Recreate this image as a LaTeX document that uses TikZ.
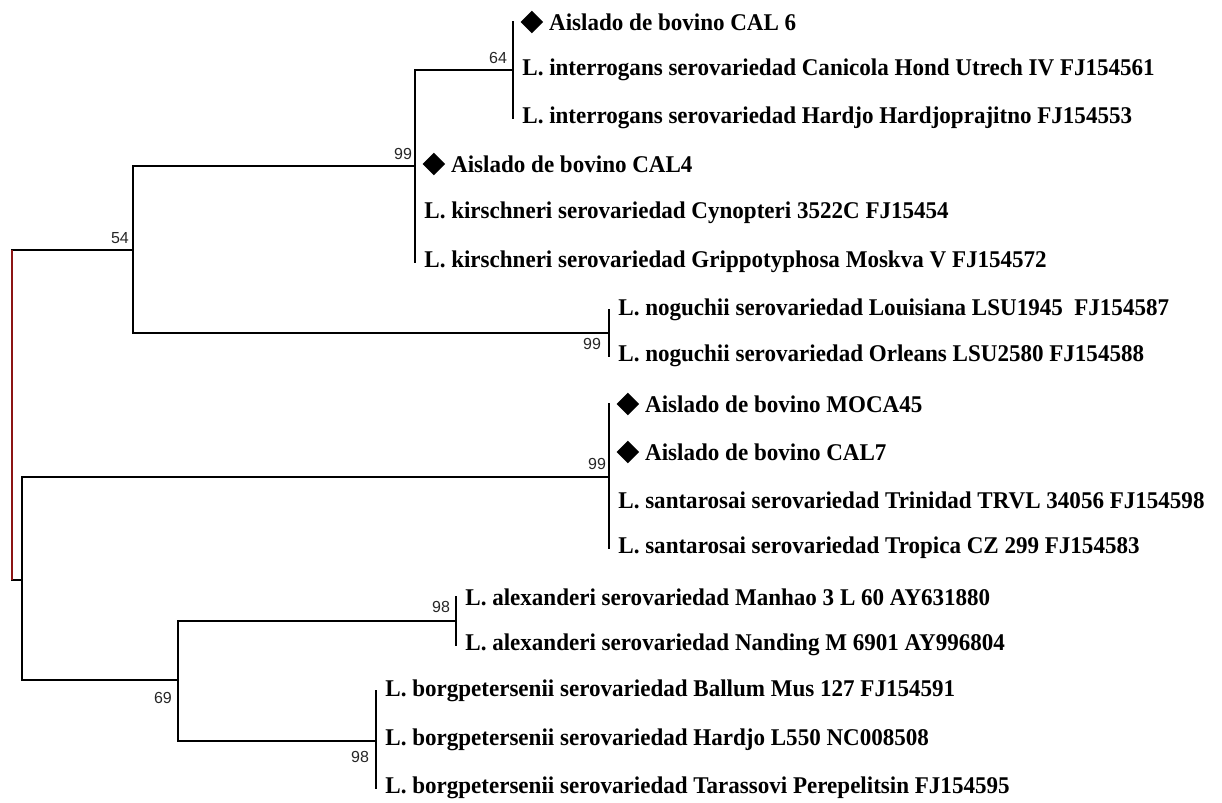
\documentclass[tikz,border=0pt]{standalone}
\usepackage{fontspec}
\setmainfont{Liberation Serif}
\newfontfamily\leaffont[FakeStretch=0.96]{Liberation Serif}
\newfontfamily\bootfont{Liberation Sans}
\usetikzlibrary{positioning,shapes.geometric}
\definecolor{rootred}{RGB}{140,20,20}
\tikzset{
	branch/.style={line width=1.45pt, line cap=rect},
	rootline/.style={line width=1.2pt, draw=rootred},
	leaf/.style={anchor=west, inner sep=0pt, font=\leaffont\bfseries\fontsize{12}{13}\selectfont},
	boot/.style={inner sep=0pt, text=black!85, font=\bootfont\fontsize{8}{9}\selectfont},
	isomark/.style={diamond, fill=black, inner sep=0pt, minimum width=11.5pt, minimum height=11.5pt}
}

\begin{document}
\begin{tikzpicture}[x=0.5pt, y=-0.5pt]
	\useasboundingbox (0,0) rectangle (1222,803);
	\coordinate (Root) at (12,415);
	\coordinate (N54) at (133,250);
	\coordinate (N99) at (415,166);
	\coordinate (N64) at (513,70);
	\coordinate (NNog) at (609,333);
	\coordinate (NB) at (22,580);
	\coordinate (NSan) at (609,477);
	\coordinate (N69) at (178,680);
	\coordinate (NAlex) at (456,621);
	\coordinate (NBorg) at (376,741);
	% leaves
	\coordinate (CAL6) at (513,22);
	\coordinate (Canicola) at (513,70);
	\coordinate (Hardjoprajitno) at (513,118);
	\coordinate (CAL4) at (415,164);
	\coordinate (Cynopteri) at (415,213);
	\coordinate (Grippo) at (415,262);
	\coordinate (Louisiana) at (609,310);
	\coordinate (Orleans) at (609,356);
	\coordinate (MOCA45) at (609,404);
	\coordinate (CAL7) at (609,452);
	\coordinate (Trinidad) at (609,500);
	\coordinate (Tropica) at (609,548);
	\coordinate (Manhao) at (456,597);
	\coordinate (Nanding) at (456,645);
	\coordinate (Ballum) at (376,691);
	\coordinate (Hardjo) at (376,740);
	\coordinate (Tarassovi) at (376,788);

	\draw [branch] (Root |- N54) -- (N54);
	\draw [branch] (Root |- NB) -- (NB);
	\draw [rootline] (Root |- N54) -- (Root |- NB);
	\draw [branch] (N54) |- (N99);
	\draw [branch] (N54) |- (NNog);
	\draw [branch] (N99) |- (N64);
	\draw [branch] (N99) |- (CAL4);
	\draw [branch] (N99) |- (Cynopteri);
	\draw [branch] (N99) |- (Grippo);
	\draw [branch] (N64) |- (CAL6);
	\draw [branch] (N64) |- (Hardjoprajitno);
	\draw [branch] (NNog) |- (Louisiana);
	\draw [branch] (NNog) |- (Orleans);
	\draw [branch] (NB) |- (NSan);
	\draw [branch] (NB) |- (N69);
	\draw [branch] (NSan) |- (MOCA45);
	\draw [branch] (NSan) |- (Tropica);
	\draw [branch] (N69) |- (NAlex);
	\draw [branch] (N69) |- (NBorg);
	\draw [branch] (NAlex) |- (Manhao);
	\draw [branch] (NAlex) |- (Nanding);
	\draw [branch] (NBorg) |- (Ballum);
	\draw [branch] (NBorg) |- (Tarassovi);

	\node [isomark, right=3.5pt of CAL6] (dCAL6) {};
	\node [leaf, right=2.5pt of dCAL6] (tCAL6) {Aislado de bovino CAL 6};
	\node [leaf, right=4.5pt of Canicola] (tCanicola) {L. interrogans serovariedad Canicola Hond Utrech IV FJ154561};
	\node [leaf, right=4.5pt of Hardjoprajitno] (tHardjoprajitno) {L. interrogans serovariedad Hardjo Hardjoprajitno FJ154553};
	\node [isomark, right=3.5pt of CAL4] (dCAL4) {};
	\node [leaf, right=2.5pt of dCAL4] (tCAL4) {Aislado de bovino CAL4};
	\node [leaf, right=4.5pt of Cynopteri] (tCynopteri) {L. kirschneri serovariedad Cynopteri 3522C FJ15454};
	\node [leaf, right=4.5pt of Grippo] (tGrippo) {L. kirschneri serovariedad Grippotyphosa Moskva V FJ154572};
	\node [leaf, right=4.5pt of Louisiana] (tLouisiana) {L. noguchii serovariedad Louisiana LSU1945\ \ FJ154587};
	\node [leaf, right=4.5pt of Orleans] (tOrleans) {L. noguchii serovariedad Orleans LSU2580 FJ154588};
	\node [isomark, right=3.5pt of MOCA45] (dMOCA45) {};
	\node [leaf, right=2.5pt of dMOCA45] (tMOCA45) {Aislado de bovino MOCA45};
	\node [isomark, right=3.5pt of CAL7] (dCAL7) {};
	\node [leaf, right=2.5pt of dCAL7] (tCAL7) {Aislado de bovino CAL7};
	\node [leaf, right=4.5pt of Trinidad] (tTrinidad) {L. santarosai serovariedad Trinidad TRVL 34056 FJ154598};
	\node [leaf, right=4.5pt of Tropica] (tTropica) {L. santarosai serovariedad Tropica CZ 299 FJ154583};
	\node [leaf, right=4.5pt of Manhao] (tManhao) {L. alexanderi serovariedad Manhao 3 L 60 AY631880};
	\node [leaf, right=4.5pt of Nanding] (tNanding) {L. alexanderi serovariedad Nanding M 6901 AY996804};
	\node [leaf, right=4.5pt of Ballum] (tBallum) {L. borgpetersenii serovariedad Ballum Mus 127 FJ154591};
	\node [leaf, right=4.5pt of Hardjo] (tHardjo) {L. borgpetersenii serovariedad Hardjo L550 NC008508};
	\node [leaf, right=4.5pt of Tarassovi] (tTarassovi) {L. borgpetersenii serovariedad Tarassovi Perepelitsin FJ154595};

	\node [boot] (b54) at (120,238) {54};
	\node [boot] (b99) at (403,154) {99};
	\node [boot] (b64) at (498,58) {64};
	\node [boot] (b99nog) at (592,344) {99};
	\node [boot] (b99san) at (597,464) {99};
	\node [boot] (b69) at (163,698) {69};
	\node [boot] (b98alex) at (441,607) {98};
	\node [boot] (b98borg) at (360,757) {98};
\end{tikzpicture}
\end{document}
